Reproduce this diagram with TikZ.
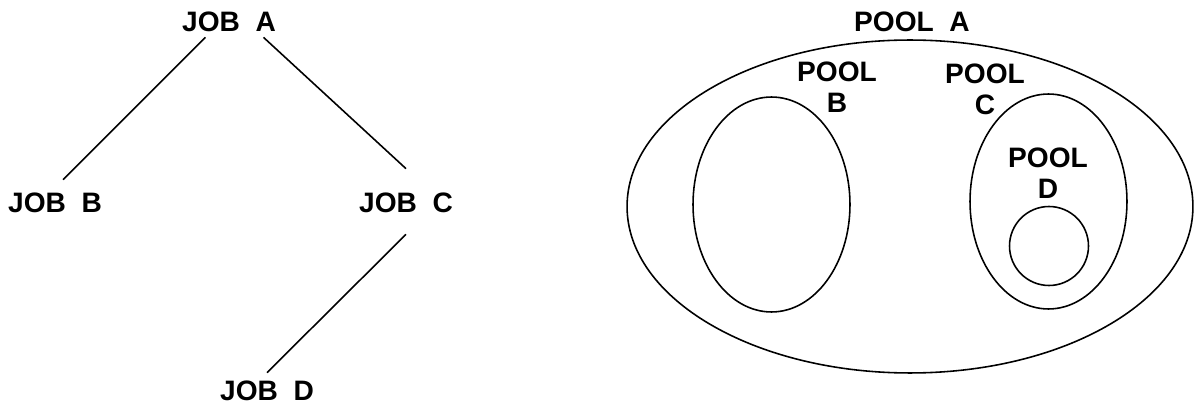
\documentclass[tikz,border=0pt]{standalone}
\usepackage{fontspec}
\setmainfont{Liberation Sans}
\usetikzlibrary{positioning, shapes.geometric}

\begin{document}
\begin{tikzpicture}[x=0.02cm, y=-0.02cm,
    tag/.style={font=\bfseries\fontsize{16pt}{17.5pt}\selectfont, align=center, inner sep=0.1cm},
    job/.style={tag, text height=0.4cm, text depth=0pt},
    pool/.style={draw, ellipse, line width=0.9pt, inner sep=0pt},
    conn/.style={line width=0.9pt}]
  \useasboundingbox (0,0) rectangle (1194,405);
  % job tree
  \node[job] (jobA) at (229,22) {JOB~~A};
  \node[job] (jobB) at (55,203) {JOB~~B};
  \node[job] (jobC) at (406,203) {JOB~~C};
  \node[job] (jobD) at (267,391) {JOB~~D};
  \draw[conn] (jobA.213) -- ([shift={(0.16cm,0.16cm)}]jobB.north);
  \draw[conn] (jobA.336) -- ([yshift=0.38cm]jobC.north);
  \draw[conn] ([yshift=-0.32cm]jobC.south) -- ([yshift=0.06cm]jobD.north);
  % nested pools
  \node[pool, minimum width=11.32cm, minimum height=6.66cm] (poolA) at (910,206.5) {};
  \node[pool, minimum width=3.14cm, minimum height=4.3cm] (poolB) at (771.5,204.5) {};
  \node[pool, minimum width=3.14cm, minimum height=4.3cm] (poolC) at (1048.5,201.5) {};
  \node[pool, circle, minimum size=1.58cm] (poolD) at (1049,246) {};
  \node[job] (tagA) at (912,22) {POOL~~A};
  \node[tag] (tagB) at (837,87.5) {POOL\\B};
  \node[tag] (tagC) at (985,89.5) {POOL\\C};
  \node[tag] (tagD) at (1048,173.5) {POOL\\D};
\end{tikzpicture}
\end{document}
